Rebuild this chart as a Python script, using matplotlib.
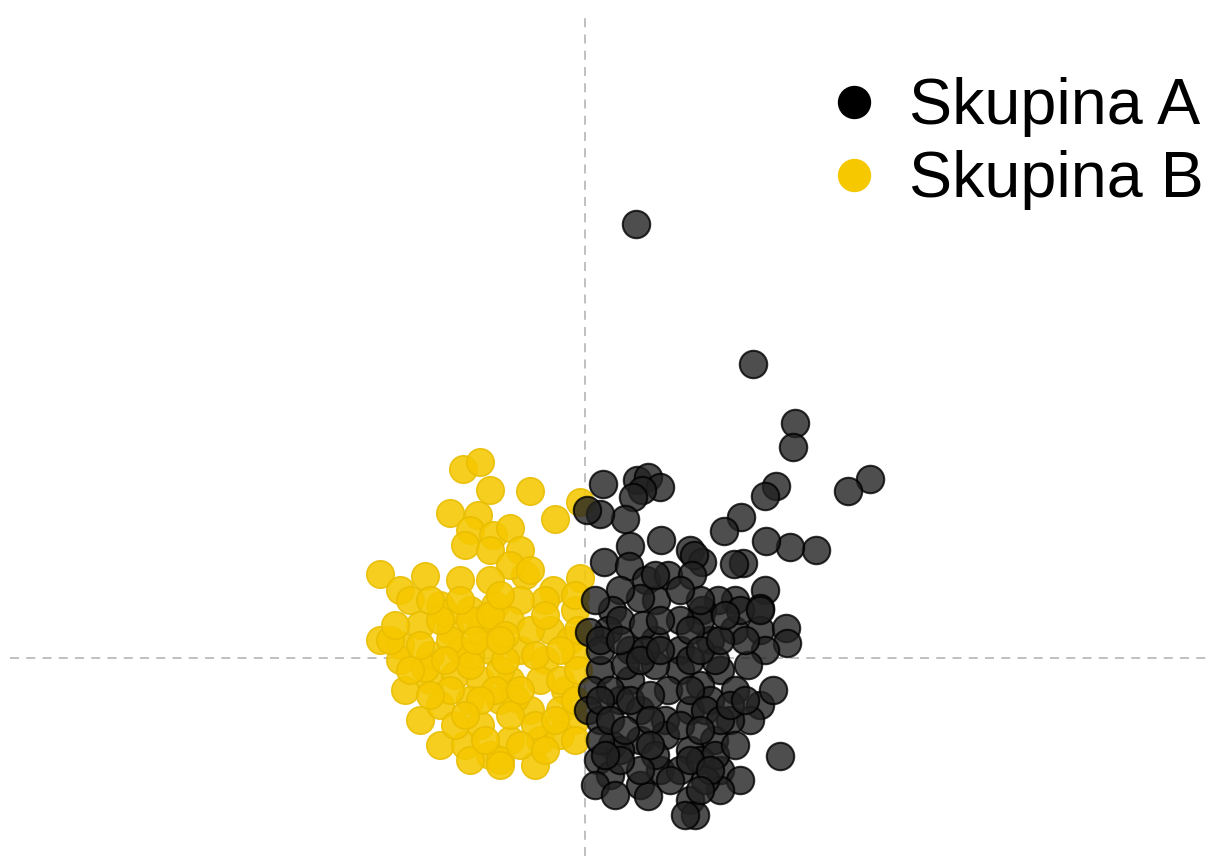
import matplotlib
matplotlib.use("Agg")
import matplotlib.pyplot as plt
from matplotlib.lines import Line2D

plt.rcParams['font.family'] = ['Liberation Sans', 'DejaVu Sans']

labels = ["Skupina A", "Skupina B"]
colors = ["#1a1a1a", "#F5C800"]

# Skupina A (black)
a_x = [0.51, 1.68, 2.10, 2.08, 2.85, 2.63, 1.91, 1.80, 1.56, 1.39, 2.31, 2.05, 1.81, 1.58,
       0.18, 0.52, 0.63, 0.75, 0.57, 0.48, 0.40, 0.15, 0.02, 0.45, 0.76, 1.05, 1.17, 1.09,
       0.19, 0.44, 0.61, 0.83, 1.07, 1.49, 1.80, 1.50, 1.75, 1.33, 1.17, 0.71, 0.55, 0.35,
       0.27, 0.23, 0.04, 0.45, 0.70, 0.95, 1.25, 1.49, 1.75, 2.01, 2.02, 1.80, 1.63, 1.35,
       1.15, 0.95, 0.70, 0.45, 0.15, 0.07, 0.03, 0.15, 0.35, 0.55, 0.80, 1.05, 1.25, 1.50,
       1.75, 1.88, 1.65, 1.45, 1.29, 1.05, 0.80, 0.55, 0.27, 0.13, 0.25, 0.55, 0.75, 0.95,
       1.15, 1.35, 1.55, 1.95, 0.63, 1.05, 1.10, 1.00, 1.35, 1.20, 0.35, 0.15, 0.70, 1.30,
       1.50, 1.55, 1.15, 0.95, 0.35, 0.58, 0.83, 0.15, 0.40, 0.60, 1.05, 1.30, 1.60,
       0.15, 0.35, 0.55, 0.75, 1.05, 1.15, 1.35, 0.25, 0.45, 0.65, 1.05, 1.20, 1.35, 0.15,
       0.25, 0.40, 0.65, 0.95, 1.15, 1.05, 1.25, 1.15, 0.85, 0.55, 0.35, 0.20, 0.65, 1.45,
       1.60, 0.75, 1.15, 1.40, 1.75, 0.10, 0.95, 0.70, 0.10, 0.30]
a_y = [4.34, 2.94, 2.35, 2.11, 1.79, 1.67, 1.72, 1.62, 1.41, 1.27, 1.08, 1.11, 1.17, 0.95,
       1.74, 1.78, 1.81, 1.71, 1.68, 1.61, 1.39, 1.44, 1.48, 1.12, 1.18, 1.08, 0.96, 1.03,
       0.96, 0.92, 0.78, 0.83, 0.83, 0.94, 0.68, 0.58, 0.50, 0.58, 0.48, 0.58, 0.60, 0.68,
       0.48, 0.28, 0.26, 0.08, 0.18, 0.08, 0.18, 0.28, 0.28, 0.30, 0.15, 0.08, -0.07, -0.12,
       -0.27, -0.12, -0.07, -0.22, -0.12, -0.32, -0.52, -0.62, -0.42, -0.52, -0.62, -0.52, -0.42, -0.32,
       -0.47, -0.32, -0.62, -0.62, -0.82, -0.92, -0.77, -0.82, -0.87, -1.02, -1.17, -1.27, -1.12, -1.12,
       -1.02, -1.12, -1.22, -0.98, -1.38, -1.42, -1.57, -1.57, -1.32, -1.22, -0.92, -0.82, -0.97, -0.97,
       -0.87, 0.48, 0.38, 0.38, 0.38, 0.33, -0.32, 0.08, -0.07, 0.08, 0.28, -0.02, 0.18,
       0.18, 0.18, -0.02, 0.08, -0.02, 0.08, 0.18, -0.32, -0.42, -0.37, -0.32, -0.52, -0.62, -0.42,
       -0.62, -0.72, -0.62, -0.67, -0.72, -1.02, -1.12, -1.32, -1.22, -1.12, -1.02, -0.97, -0.87, -0.47,
       -0.42, 0.38, 0.58, 0.43, 0.48, 0.58, 0.68, 0.83, -1.27, -1.37]

# Skupina B (yellow)
b_x = [-1.22, -1.05, -0.95, -0.55, -1.35, -1.07, -0.30, -0.05, -1.15, -0.92, -0.75, -1.20,
       -0.95, -0.65, -0.60, -0.75, -2.05, -1.60, -1.25, -0.95, -0.55, -0.32, -0.05, -0.40,
       -0.10, -0.65, -1.85, -1.75, -1.45, -1.15, -0.90, -2.05, -1.85, -1.65, -1.35, -1.05,
       -0.75, -0.35, -0.15, -1.85, -1.55, -1.25, -0.95, -0.65, -0.40, -0.10, -1.80, -1.55,
       -1.30, -1.05, -0.75, -0.45, -0.20, -1.65, -1.45, -1.15, -0.85, -0.55, -0.25, -0.10,
       -1.45, -1.20, -0.95, -0.75, -0.45, -0.25, -0.50, -0.85, -1.05, -1.30, -0.10, -1.95,
       -1.15, -0.85, -0.55, -0.25, -1.00, -1.40, -0.70, -1.60,
       -1.35, -1.15, -0.95, -0.80, -1.15, -0.90, -0.65, -1.35, -1.55, -1.05, -0.75, -1.20,
       -0.50, -0.30, -0.10, -0.07, -0.07, -0.10, -1.25, -0.85, -1.45, -1.65, -1.90, -1.75,
       -0.85, -0.65, -0.40, -1.15, -1.00, -1.40, -0.80, -0.50, -0.25, -0.40, -1.55, -1.10,
       -0.85]
b_y = [1.89, 1.96, 1.68, 1.67, 1.45, 1.43, 1.39, 1.56, 1.28, 1.23, 1.30, 1.13, 1.08, 1.08,
       0.83, 0.93, 0.84, 0.82, 0.78, 0.78, 0.88, 0.68, 0.80, 0.58, 0.48, 0.58, 0.68, 0.58,
       0.53, 0.48, 0.53, 0.18, 0.13, 0.33, 0.28, 0.28, 0.38, 0.28, 0.18, -0.02, 0.03, 0.08,
       0.08, 0.08, -0.02, 0.03, -0.32, -0.22, -0.17, -0.22, -0.22, -0.22, -0.32, -0.62, -0.47,
       -0.42, -0.42, -0.52, -0.52, -0.62, -0.87, -0.87, -0.97, -0.82, -0.82, -0.77, -1.07, -1.02,
       -0.67, -0.67, -0.82, 0.18, 0.03, -0.12, 0.28, -0.22, 0.40, 0.45, -0.40, -0.10,
       0.18, 0.38, 0.43, 0.23, -0.07, -0.32, -0.32, -0.32, -0.37, -0.42, -0.57, -0.57,
       -0.67, -0.62, -0.42, -0.12, 0.28, 0.63, 0.58, 0.63, 0.38, 0.13, 0.33, -0.12,
       -1.07, -0.87, -0.92, -1.02, -0.82, -0.02, -0.02, 0.03, 0.08, 0.43, 0.58, 0.18,
       0.18]

fig = plt.figure(figsize=(12.1, 8.56), dpi=100)
ax = fig.add_axes([10/1210, 0, 1 - 10/1210, 841/856])
ax.set_xlim(-5.75, 6.25)
ax.set_ylim(-1.98, 6.43)

ax.axhline(0, color="#bbbbbb", lw=1.3, ls=(0, (5, 4)), zorder=1)
ax.axvline(0, color="#bbbbbb", lw=1.3, ls=(0, (5, 4)), zorder=1)

ax.scatter(b_x, b_y, s=390, facecolor=colors[1], edgecolor="#e8bd00", linewidth=1.2, alpha=0.88, zorder=2)
ax.scatter(a_x, a_y, s=390, facecolor="#222222", edgecolor="#000000", linewidth=1.5, alpha=0.8, zorder=3)

ax.axis("off")

handles = [Line2D([], [], marker="o", ls="", color=c, markersize=23) for c in ["#000000", colors[1]]]
fig.legend(handles, labels, loc="upper right", bbox_to_anchor=(1.016, 0.94), frameon=False,
           fontsize=46.5, handletextpad=0.25, labelspacing=0.2, borderaxespad=0, handlelength=1.2)

fig.savefig("out.png", dpi=100)
